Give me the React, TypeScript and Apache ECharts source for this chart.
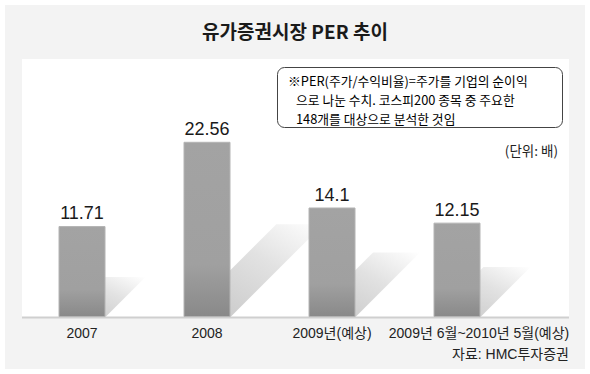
import React, { useEffect, useRef } from "react";
import * as echarts from "echarts";

const categories = ["2007", "2008", "2009년(예상)", "2009년 6월~2010년 5월(예상)"];
const perValues = [11.71, 22.56, 14.1, 12.15];
const valueLabels = ["11.71", "22.56", "14.1", "12.15"];
const shadowRatio = [0.44, 0.53, 0.59, 0.53];

const titleText = "유가증권시장 PER 추이";
const noteLines = [
  "※PER(주가/수익비율)=주가를 기업의 순이익",
  "으로 나눈 수치. 코스피200 종목 중 주요한",
  "148개를 대상으로 분석한 것임",
];
const unitText = "(단위: 배)";
const sourceText = "자료: HMC투자증권";

const KR = '"Noto Sans CJK KR", sans-serif';
const LAT = '"Liberation Sans", "Noto Sans CJK KR", sans-serif';
const BAR_W = 47;

export default function App() {
  const ref = useRef<HTMLDivElement>(null);
  useEffect(() => {
    if (!ref.current) return;
    const chart = echarts.init(ref.current, undefined, { renderer: "svg" });
    const shadowFill = new echarts.graphic.LinearGradient(0, 1, 1, 0, [
      { offset: 0, color: "#c4c4c4" },
      { offset: 0.6, color: "#e2e2e2" },
      { offset: 1, color: "#ffffff" },
    ]);
    const noteRich = { fontFamily: KR, fontSize: 12.8, lineHeight: 18.6, color: "#222" };
    const option: any = {
      animation: false,
      backgroundColor: "#ffffff",
      grid: { left: 19.5, width: 500, top: 84, bottom: 57 },
      xAxis: {
        type: "category",
        data: categories,
        axisLine: { show: false },
        axisTick: { show: false },
        axisLabel: {
          interval: 0,
          hideOverlap: false,
          margin: 8,
          fontFamily: LAT,
          fontSize: 14,
          lineHeight: 16,
          color: "#222",
          formatter: (v: string, i: number) => (i === 3 ? `{s|${v}}` : v),
          rich: {
            s: { fontFamily: LAT, fontSize: 14, lineHeight: 16, color: "#222", padding: [0, 0, 0, 44] },
          },
        },
      },
      yAxis: { type: "value", min: 0, max: 30, show: false },
      graphic: [
        { type: "rect", z: -10, shape: { x: 5, y: 5, width: 580, height: 364 }, style: { fill: "#f3f3f3" }, silent: true },
        { type: "rect", z: -9, shape: { x: 22, y: 59, width: 547, height: 258 }, style: { fill: "#ffffff" }, silent: true },
        { type: "line", z: -8, shape: { x1: 22, y1: 317.5, x2: 569, y2: 317.5 }, style: { stroke: "#cfcfcf", lineWidth: 2 }, silent: true },
        {
          type: "text", x: 295, y: 30,
          style: { text: titleText, font: `bold 19px ${KR}`, fill: "#1a1a1a", align: "center", verticalAlign: "middle" },
        },
        {
          type: "rect", shape: { x: 277.5, y: 67.5, width: 285, height: 60, r: 7 },
          style: { fill: "#ffffff", stroke: "#444", lineWidth: 1 },
        },
        {
          type: "text", x: 288, y: 99.5,
          style: {
            text: `{a|${noteLines[0]}}\n{b|${noteLines[1]}}\n{b|${noteLines[2]}}`,
            align: "left",
            verticalAlign: "middle",
            lineHeight: 18.6,
            rich: {
              a: { ...noteRich },
              b: { ...noteRich, padding: [0, 0, 0, 8] },
            },
          },
        },
        {
          type: "text", x: 558, y: 150,
          style: { text: unitText, fontFamily: KR, fontSize: 13.5, fill: "#222", align: "right", verticalAlign: "middle" },
        },
        {
          type: "text", x: 569, y: 354,
          style: { text: sourceText, fontFamily: LAT, fontSize: 14, lineHeight: 16, fill: "#222", align: "right", verticalAlign: "middle" },
        },
      ],
      series: [
        {
          type: "custom",
          z: 1,
          clip: false,
          encode: { x: 0, y: 1 },
          data: categories.map((_, i) => [i, perValues[i], shadowRatio[i]]),
          renderItem: (params: any, api: any) => {
            const i = api.value(0);
            const v = api.value(1);
            const r = api.value(2);
            const base = api.coord([i, 0]);
            const top = api.coord([i, v]);
            const h = (base[1] - top[1]) * r;
            const l = base[0] - BAR_W / 2;
            const rt = base[0] + BAR_W / 2;
            const y = base[1];
            return {
              type: "polygon",
              shape: { points: [[l, y], [rt, y], [rt + h, y - h], [l + h, y - h]] },
              style: { fill: shadowFill },
            };
          },
        },
        {
          type: "bar",
          z: 3,
          barWidth: BAR_W,
          data: perValues,
          itemStyle: {
            color: new echarts.graphic.LinearGradient(0, 0, 0, 1, [
              { offset: 0, color: "#a3a3a3" },
              { offset: 0.7, color: "#a0a0a0" },
              { offset: 1, color: "#898989" },
            ]),
            borderColor: "#b4b4b4",
            borderWidth: 1,
          },
          label: {
            show: true,
            position: "top",
            distance: 4,
            fontFamily: LAT,
            fontSize: 18,
            color: "#1a1a1a",
            formatter: (p: any) => valueLabels[p.dataIndex],
          },
        },
      ],
    };
    chart.setOption(option);
    return () => chart.dispose();
  }, []);
  return <div ref={ref} style={{ position: "fixed", left: 0, top: 0, width: 590, height: 374 }} />;
}
